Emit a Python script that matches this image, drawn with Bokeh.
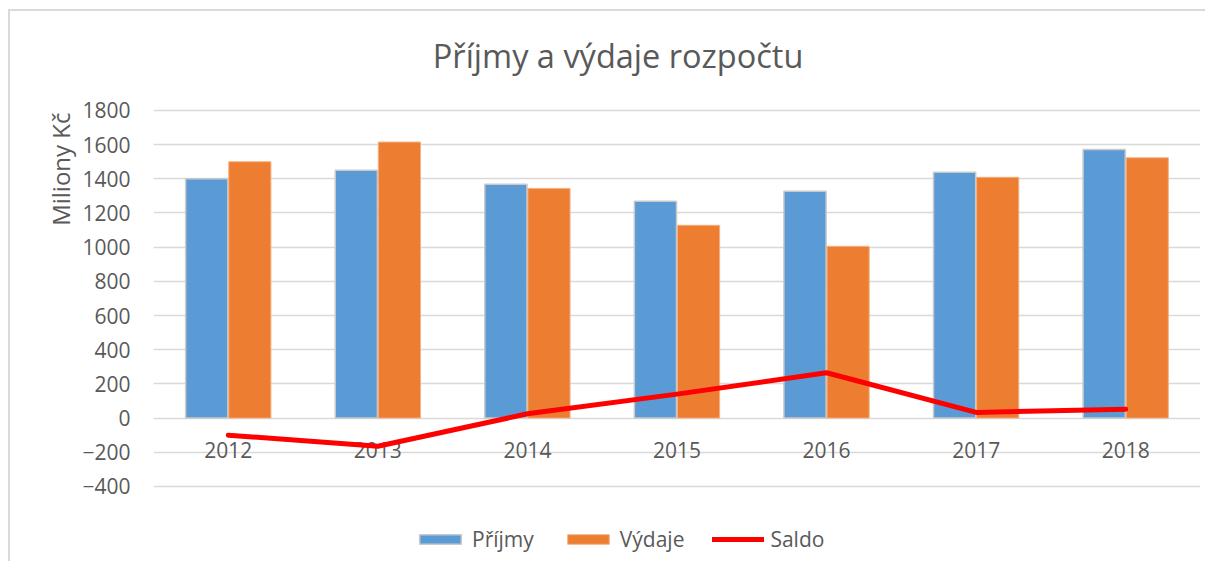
from bokeh.plotting import figure
from bokeh.models import (FactorRange, Range1d, FixedTicker, Legend, LegendItem,
                          ColumnDataSource, Title, Label)
from bokeh.transform import dodge
from bokeh.core.properties import value
from bokeh.embed import file_html
from bokeh.resources import INLINE

years = ["2012", "2013", "2014", "2015", "2016", "2017", "2018"]
prijmy = [1400, 1450, 1368, 1268, 1327, 1438, 1572]
vydaje = [1500, 1615, 1344, 1128, 1005, 1409, 1523]
saldo = [-100, -165, 25, 140, 265, 33, 52]
y_ticks = [-400, -200, 0, 200, 400, 600, 800, 1000, 1200, 1400, 1600, 1800]

FONT = "Open Sans"
GRAY = "#595959"

src = ColumnDataSource(dict(years=years, prijmy=prijmy, vydaje=vydaje, saldo=saldo,
                            zero=[0] * len(years)))

# the plot frame spans the whole height; grid lines are limited to the tick values
p = figure(width=1197, height=552, x_range=FactorRange(*years, range_padding=0),
           y_range=Range1d(-851, 2379), output_backend="svg", toolbar_location=None,
           min_border_left=143, min_border_right=7, min_border_top=0, min_border_bottom=0)
p.styles = {"border-left": "2px solid #d9d9d9", "border-top": "2px solid #d9d9d9",
            "margin-left": "8px", "margin-top": "9px"}
p.outline_line_color = None
p.background_fill_color = "white"
p.border_fill_color = "white"
p.title.text = ""

p.add_layout(Label(x=3.106, y=2122, text="Příjmy a výdaje rozpočtu",
                   text_font=FONT, text_font_size="32.5px", text_color=GRAY,
                   text_align="center", text_baseline="middle"))

p.xgrid.visible = False
p.ygrid.ticker = FixedTicker(ticks=y_ticks)
p.ygrid.grid_line_color = "#d9d9d9"
p.ygrid.grid_line_width = 1.5

p.xaxis.visible = False
ya = p.yaxis[0]
ya.ticker = FixedTicker(ticks=y_ticks)
ya.axis_line_color = None
ya.major_tick_line_color = None
ya.minor_tick_line_color = None
ya.major_label_text_font = FONT
ya.major_label_text_font_size = "21px"
ya.major_label_text_color = GRAY
ya.major_label_standoff = 17

# rotated axis title in the left panel, placed at the upper part of the axis
p.add_layout(Title(text="Miliony Kč", align="right", offset=101, standoff=6,
                   text_font=FONT, text_font_size="24px", text_font_style="normal",
                   text_color=GRAY), "left")

r1 = p.vbar(x=dodge("years", -0.144, range=p.x_range), top="prijmy", width=0.282, source=src,
            fill_color="#5b9bd5", line_color="#c9c9c9", line_width=1.5)
r2 = p.vbar(x=dodge("years", 0.144, range=p.x_range), top="vydaje", width=0.282, source=src,
            fill_color="#ed7d31", line_color="#f4b183", line_width=1)

p.text(x="years", y="zero", text="years", source=src, text_font=value(FONT),
       text_font_size="21px", text_color=GRAY, text_align="center",
       text_baseline="middle", y_offset=32)

r3 = p.line(x="years", y="saldo", source=src, line_color="#ff0000", line_width=5,
            line_cap="round", line_join="round")

legend = Legend(items=[LegendItem(label="Příjmy", renderers=[r1]),
                       LegendItem(label="Výdaje", renderers=[r2]),
                       LegendItem(label="Saldo", renderers=[r3])],
                orientation="horizontal", location=(261, 10),
                label_text_font=FONT, label_text_font_size="21px", label_text_color=GRAY,
                glyph_width=52, glyph_height=12, label_standoff=6, spacing=28,
                border_line_color=None, background_fill_alpha=0, margin=0, padding=0)
p.add_layout(legend)

open("out.html", "w").write(file_html(p, INLINE))
